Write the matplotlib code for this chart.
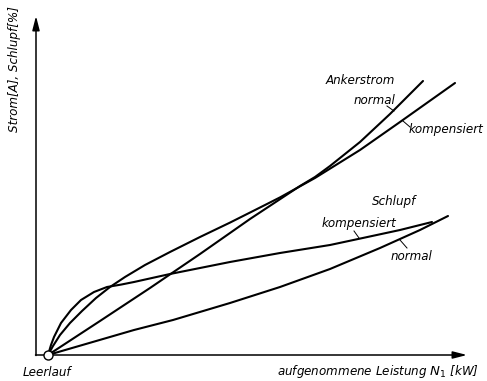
import matplotlib
matplotlib.use("Agg")
import matplotlib.pyplot as plt
from matplotlib import font_manager

# ---- data (arbitrary units: power on x, current / slip on y) ----
anker_normal_x = [0, 13, 25.5, 38, 50.5, 63, 66.75, 70.5, 78, 85.5, 93.75]
anker_normal_y = [0, 8.5, 16.75, 25.25, 34, 42.25, 44.5, 47.25, 53.25, 60.25, 68.5]

anker_komp_x = [0, 1.25, 3, 5.5, 8.5, 12, 15.5, 19.25, 24.25, 30.5, 38, 45.5, 54.25, 58, 66.75, 78, 88, 101.75]
anker_komp_y = [0, 2.25, 5, 8, 11, 14.25, 17, 19.5, 22.5, 25.75, 29.5, 33.1, 37.5, 39.4, 44.25, 51.25, 58.25, 68]

schlupf_komp_x = [0, 0.75, 1.5, 3.25, 5.75, 8.25, 11.5, 14.75, 18.25, 21.5, 30.5, 45.5, 58, 70.5, 78, 88, 96]
schlupf_komp_y = [0, 2.5, 4.5, 8, 11.25, 13.75, 15.75, 17, 17.6, 18.25, 20.25, 23.25, 25.5, 27.5, 29.1, 31.25, 33.25]

schlupf_norm_x = [0, 21.5, 31.25, 45.5, 58, 70.5, 83, 93, 100]
schlupf_norm_y = [0, 6.25, 8.75, 13, 17, 21.5, 26.75, 31.25, 34.75]

xlabel = "aufgenommene Leistung $N_1$ [kW]"
ylabel = "Strom[A], Schlupf[%]"

# pick a narrow font if one is installed
entries = font_manager.fontManager.ttflist
names = {f.name for f in entries}
stretch = "normal"
if "Liberation Sans Narrow" in names:
    FONT = ["Liberation Sans Narrow", "DejaVu Sans"]
    FS = 10.5
elif any(f.name == "DejaVu Sans" and str(f.stretch) in ("condensed", "semi-condensed", "600", "500") for f in entries):
    FONT = ["DejaVu Sans"]
    stretch = "condensed"
    FS = 9.5
else:
    FONT = ["DejaVu Sans"]
    FS = 8.6

plt.rcParams["font.family"] = FONT
plt.rcParams["mathtext.fontset"] = "dejavusans"

fig = plt.figure(figsize=(4.87, 3.81), dpi=100)
ax = fig.add_axes([0, 0, 1, 1])
ax.set_xlim(-12, 109.75)
ax.set_ylim(-6.5, 88.75)
ax.axis("off")

def P(px, py):
    return ((px - 48) / 4.0, (355 - py) / 4.0)

lw = 1.5
for xs, ys in [(anker_normal_x, anker_normal_y), (anker_komp_x, anker_komp_y),
               (schlupf_komp_x, schlupf_komp_y), (schlupf_norm_x, schlupf_norm_y)]:
    ax.plot(xs, ys, color="black", lw=lw, solid_capstyle="round", solid_joinstyle="round", zorder=3)

# axes with arrows
arrow = dict(arrowstyle="-|>,head_length=0.7,head_width=0.18", color="black", lw=1.1,
             shrinkA=0, shrinkB=0, mutation_scale=12)
ax.annotate("", xy=P(36, 16), xytext=P(36, 355.5), arrowprops=arrow)
ax.annotate("", xy=P(467, 355), xytext=P(35.5, 355), arrowprops=arrow)

# no-load point
ax.plot([0], [0], marker="o", ms=6.5, mfc="white", mec="black", mew=1.0, zorder=5)

tkw = dict(style="italic", color="black", family=FONT, fontstretch=stretch,
           ha="center", va="center", fontsize=FS)
ax.text(*P(15, 69), ylabel, rotation=90, **tkw)
ax.text(*P(47, 372), "Leerlauf", **tkw)
ax.text(*P(378, 371), xlabel, **tkw)

ax.text(*P(360, 80), "Ankerstrom", **tkw)
ax.text(*P(375, 101), "normal", **tkw)
ax.text(*P(446, 129), "kompensiert", **tkw)
ax.text(*P(394, 201), "Schlupf", **tkw)
ax.text(*P(359, 224), "kompensiert", **tkw)
ax.text(*P(412, 256), "normal", **tkw)

# leader lines
for (a, b) in [((387, 106), (394, 111)), ((403, 121), (410, 127)),
               ((354, 231), (359, 238)), ((400, 240), (407, 248))]:
    ax.plot(*zip(P(*a), P(*b)), color="black", lw=0.7)

fig.savefig("out.png", dpi=100)
